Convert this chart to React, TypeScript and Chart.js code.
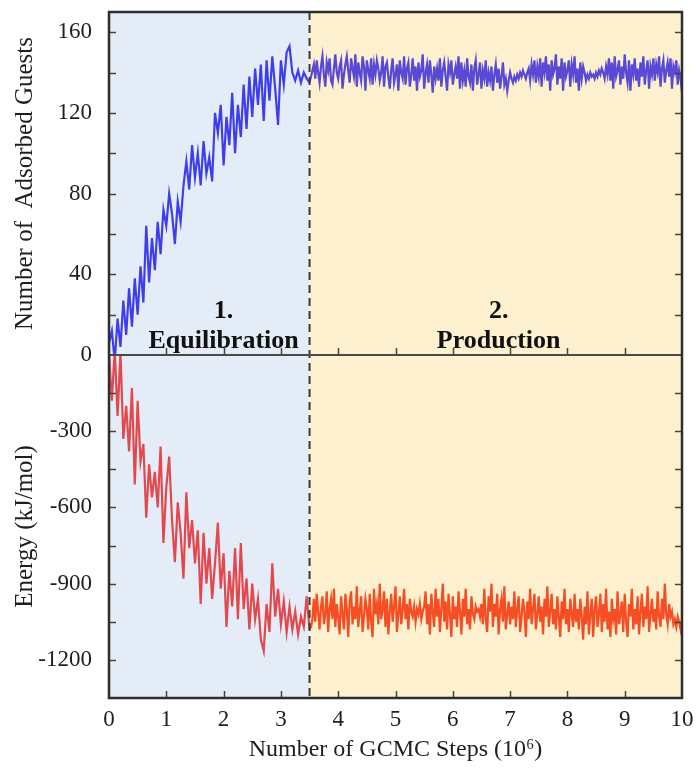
import React, { useEffect, useRef } from 'react';
import { Chart, registerables } from 'chart.js';

Chart.register(...registerables);

// sampling intervals along the x axis (10^6 GCMC steps)
const STEP_EQ = 0.05;
const STEP_PROD = 0.025;
const PHASE_SPLIT = 3.5;
const X_MIN = 0;
const X_MAX = 10;

// Number of adsorbed guests, equilibration phase (x = 0 .. 3.5, every 0.05)
const guestsEquil = [
  6, 12, -3, 18, 4, 27, 10, 33, 14, 38,
  20, 44, 26, 64, 36, 58, 42, 66, 50, 72,
  64, 80, 70, 55, 76, 66, 84, 96, 82, 104,
  88, 100, 84, 106, 90, 98, 86, 120, 110, 124,
  94, 118, 104, 130, 100, 124, 108, 134, 112, 138,
  118, 142, 124, 144, 116, 146, 126, 148, 132, 114,
  146, 134, 150, 153, 140, 136, 141, 135, 140, 137,
  135,
];

// Number of adsorbed guests, production phase (x = 3.525 .. 10, every 0.025)
const guestsProd = [
  138, 141, 144, 137, 146, 140, 135, 143, 148, 139,
  133, 145, 141, 147, 136, 134, 142, 149, 140, 137,
  143, 146, 132, 139, 144, 148, 141, 135, 147, 142,
  138, 149, 133, 145, 140, 136, 148, 143, 131, 146,
  141, 137, 147, 134, 144, 139, 146, 142, 136, 140,
  148, 133, 143, 145, 138, 132, 141, 147, 135, 139,
  144, 131, 146, 140, 137, 148, 134, 142, 145, 133,
  139, 147, 136, 143, 131, 145, 138, 141, 149, 132,
  140, 144, 135, 146, 139, 130, 143, 137, 142, 136,
  147, 133, 141, 145, 138, 131, 144, 140, 146, 134,
  139, 143, 137, 148, 132, 145, 136, 141, 133, 147,
  138, 135, 144, 131, 142, 146, 134, 139, 145, 132,
  141, 137, 146, 133, 140, 136, 143, 131, 139, 144,
  135, 142, 132, 138, 145, 134, 137, 131, 136, 140,
  137, 135, 138, 136, 139, 137, 140, 138, 141, 139,
  137, 140, 142, 136, 144, 139, 146, 135, 143, 138,
  147, 133, 145, 140, 148, 136, 144, 131, 146, 139,
  142, 149, 134, 143, 137, 147, 131, 145, 138, 141,
  146, 133, 144, 139, 148, 135, 142, 131, 145, 137,
  143, 140, 136, 139, 137, 140, 138, 139, 137, 140,
  138, 141, 139, 142, 140, 137, 143, 139, 147, 136,
  145, 132, 148, 138, 141, 146, 134, 143, 137, 149,
  140, 135, 146, 131, 144, 139, 147, 136, 142, 133,
  145, 138, 148, 134, 141, 146, 132, 143, 139, 147,
  136, 144, 140, 148, 133, 142, 146, 135, 141, 145,
  138, 147, 132, 143, 140, 146, 134, 141, 137, 130,
];

// Energy (kJ/mol), equilibration phase (x = 0 .. 3.5, every 0.05)
const energyEquil = [
  10, -180, 20, -240, 10, -330, -200, -380, -130, -510,
  -180, -420, -350, -640, -430, -560, -460, -600, -360, -740,
  -520, -400, -650, -815, -580, -700, -880, -540, -760, -650,
  -820, -690, -980, -700, -900, -760, -960, -820, -660, -920,
  -780, -1070, -850, -990, -760, -1040, -740, -1000, -880, -1080,
  -900, -1040, -960, -1120, -1165, -980, -1090, -820, -1030, -920,
  -1060, -970, -1090, -990, -1080, -1010, -1100, -1030, -1070, -950,
  -1080,
];

// Energy (kJ/mol), production phase (x = 3.525 .. 10, every 0.025)
const energyProd = [
  -1070, -1040, -960, -1050, -940, -1010, -1080, -990, -950, -1060,
  -1020, -930, -1090, -1000, -960, -1040, -920, -1070, -980, -1030,
  -1100, -950, -1020, -1080, -940, -1000, -1110, -970, -930, -1060,
  -990, -1040, -910, -1070, -1010, -950, -1090, -1030, -960, -1000,
  -1080, -940, -1050, -1110, -920, -1020, -980, -1060, -900, -1040,
  -1000, -930, -1070, -960, -1100, -1010, -940, -1050, -990, -910,
  -1090, -1020, -950, -1060, -1000, -920, -1040, -980, -1080, -960,
  -1010, -1030, -990, -1050, -1000, -1020, -980, -1040, -1010, -990,
  -930, -1060, -980, -1100, -940, -1010, -1070, -920, -1030, -960,
  -1090, -1000, -900, -1050, -970, -1080, -940, -1020, -1110, -950,
  -1040, -990, -1070, -930, -1010, -1100, -960, -1030, -920, -1060,
  -1000, -1080, -950, -1020, -1040, -990, -1010, -1000, -1030, -980,
  -1060, -920, -1040, -1090, -950, -1010, -900, -1070, -980, -1030,
  -940, -1100, -1000, -960, -1050, -910, -1080, -1020, -970, -1060,
  -990, -1040, -930, -1070, -1000, -950, -1090, -1030, -960, -1010,
  -1110, -970, -1040, -920, -1060, -1000, -940, -1080, -1020, -950,
  -1050, -990, -1100, -960, -1030, -910, -1070, -1010, -940, -1060,
  -1000, -1080, -950, -1030, -1110, -970, -1040, -920, -1060, -1000,
  -1090, -960, -1020, -1070, -940, -1050, -1000, -1080, -960, -1030,
  -1120, -990, -1060, -930, -1100, -1020, -960, -1110, -1000, -950,
  -1070, -1020, -940, -1090, -980, -1050, -920, -1080, -1010, -1110,
  -960, -1040, -1000, -1100, -930, -1060, -1020, -970, -1090, -940,
  -1050, -1110, -980, -1030, -920, -1080, -1000, -1060, -950, -1100,
  -1010, -940, -1070, -990, -1040, -910, -1090, -1020, -960, -1050,
  -1000, -1080, -930, -1030, -1070, -960, -1040, -900, -1020, -1060,
  -980, -1030, -1010, -1060, -1040, -1070, -1030, -1050, -1080, -1040,
];

const GUESTS_TICK_LABELS = [0, 40, 80, 120, 160];
const ENERGY_TICK_LABELS = [-300, -600, -900, -1200];

const PHASE_LABELS = [
  { num: '1.', name: 'Equilibration', x: 2.0 },
  { num: '2.', name: 'Production', x: 6.8 },
];

const FONT = "'Liberation Serif', 'Times New Roman', serif";
const TEXT = '#1e1e1e';
const BLUE_EQ = 'rgb(62, 62, 236)';
const BLUE_PROD = 'rgb(88, 74, 212)';
const RED_EQ = 'rgb(226, 72, 78)';
const RED_PROD = 'rgb(246, 78, 36)';
const BG_EQ = 'rgb(228, 237, 247)';
const BG_PROD = 'rgb(253, 240, 206)';

const toPoints = (eq: number[], prod: number[]) => [
  ...eq.map((v, i) => ({ x: Math.round(i * STEP_EQ * 1000) / 1000, y: v })),
  ...prod.map((v, i) => ({ x: Math.round((PHASE_SPLIT + (i + 1) * STEP_PROD) * 1000) / 1000, y: v })),
];

const guests = toPoints(guestsEquil, guestsProd);
const energy = toPoints(energyEquil, energyProd);

const backdropPlugin = {
  id: 'backdrop',
  beforeDatasetsDraw(chart: any) {
    const { ctx, chartArea } = chart;
    const xs = chart.scales.x;
    const xSplit = xs.getPixelForValue(PHASE_SPLIT);
    ctx.save();
    ctx.fillStyle = BG_EQ;
    ctx.fillRect(chartArea.left, chartArea.top, xSplit - chartArea.left, chartArea.bottom - chartArea.top);
    ctx.fillStyle = BG_PROD;
    ctx.fillRect(xSplit, chartArea.top, chartArea.right - xSplit, chartArea.bottom - chartArea.top);
    ctx.restore();
  },
};

const overlayPlugin = {
  id: 'overlay',
  afterDatasetsDraw(chart: any) {
    const { ctx, chartArea } = chart;
    const xs = chart.scales.x;
    const yG = chart.scales.yG;
    const yE = chart.scales.yE;
    const L = chartArea.left;
    const R = chartArea.right;
    const T = chartArea.top;
    const B = chartArea.bottom;
    const mid = yG.getPixelForValue(0);
    const TL = 7;
    ctx.save();

    // dashed phase divider
    const xSplit = xs.getPixelForValue(PHASE_SPLIT);
    ctx.strokeStyle = '#3a3a3a';
    ctx.lineWidth = 2;
    ctx.setLineDash([8, 5]);
    ctx.beginPath();
    ctx.moveTo(xSplit, T);
    ctx.lineTo(xSplit, B);
    ctx.stroke();
    ctx.setLineDash([]);

    // inward tick marks
    ctx.strokeStyle = '#444';
    ctx.lineWidth = 1.5;
    ctx.beginPath();
    for (const s of [yG, yE]) {
      for (const t of s.ticks) {
        const p = Math.round(s.getPixelForValue(t.value)) + 0.5;
        if (p <= T + 1 || p >= B - 1 || Math.abs(p - mid) < 1) continue;
        ctx.moveTo(L, p);
        ctx.lineTo(L + TL, p);
        ctx.moveTo(R, p);
        ctx.lineTo(R - TL, p);
      }
    }
    for (const t of xs.ticks) {
      const p = Math.round(xs.getPixelForValue(t.value)) + 0.5;
      if (p <= L + 1 || p >= R - 1) continue;
      ctx.moveTo(p, B);
      ctx.lineTo(p, B - TL);
      ctx.moveTo(p, mid);
      ctx.lineTo(p, mid - TL);
    }
    ctx.stroke();

    // middle separator line
    ctx.strokeStyle = '#4a4a4a';
    ctx.lineWidth = 2;
    ctx.beginPath();
    ctx.moveTo(L, mid);
    ctx.lineTo(R, mid);
    ctx.stroke();

    // frame
    ctx.strokeStyle = '#2e2e2e';
    ctx.lineWidth = 2.5;
    ctx.strokeRect(L, T, R - L, B - T);

    // phase labels
    ctx.fillStyle = '#111';
    ctx.font = `bold 26px ${FONT}`;
    ctx.textAlign = 'center';
    ctx.textBaseline = 'alphabetic';
    for (const lab of PHASE_LABELS) {
      const px = xs.getPixelForValue(lab.x);
      ctx.fillText(lab.num, px, mid - 37);
      ctx.fillText(lab.name, px, mid - 7);
    }
    ctx.restore();
  },
};

export default function App() {
  const ref = useRef<HTMLCanvasElement>(null);

  useEffect(() => {
    if (!ref.current) return;
    const chart = new Chart(ref.current, {
      type: 'line',
      data: {
        datasets: [
          {
            label: 'Adsorbed guests',
            data: guests,
            yAxisID: 'yG',
            borderColor: BLUE_EQ,
            borderWidth: 2.2,
            pointRadius: 0,
            tension: 0,
            segment: {
              borderColor: (c: any) => (c.p0.parsed.x >= PHASE_SPLIT ? BLUE_PROD : BLUE_EQ),
            },
          },
          {
            label: 'Energy',
            data: energy,
            yAxisID: 'yE',
            borderColor: RED_EQ,
            borderWidth: 2.2,
            pointRadius: 0,
            tension: 0,
            segment: {
              borderColor: (c: any) => (c.p0.parsed.x >= PHASE_SPLIT ? RED_PROD : RED_EQ),
            },
          },
        ],
      },
      options: {
        animation: false,
        responsive: false,
        layout: { padding: { left: 0, right: 14, top: 12, bottom: 0 } },
        plugins: {
          legend: { display: false },
          tooltip: { enabled: false },
        },
        scales: {
          x: {
            type: 'linear',
            position: 'bottom',
            min: X_MIN,
            max: X_MAX,
            grid: { display: false },
            border: { display: false },
            ticks: {
              stepSize: 1,
              padding: 0,
              color: TEXT,
              font: { family: FONT, size: 23 },
            },
            title: {
              display: true,
              text: 'Number of GCMC Steps (10⁶)',
              color: TEXT,
              font: { family: FONT, size: 24 },
              padding: { top: 0, bottom: 8 },
            },
            afterFit: (s: any) => {
              s.height = 74;
            },
          },
          yE: {
            type: 'linear',
            position: 'left',
            stack: 'panels',
            stackWeight: 1,
            min: -1350,
            max: 0,
            grid: { display: false },
            border: { display: false },
            ticks: {
              stepSize: 150,
              includeBounds: false,
              autoSkip: false,
              padding: 9,
              color: TEXT,
              font: { family: FONT, size: 23 },
              callback: (v: any) => (ENERGY_TICK_LABELS.includes(Number(v)) ? String(v) : ''),
            },
            title: {
              display: true,
              text: 'Energy (kJ/mol)',
              color: TEXT,
              font: { family: FONT, size: 25 },
              padding: { top: 10, bottom: 0 },
            },
            afterFit: (s: any) => {
              s.width = 109;
              s.paddingTop = 0;
              s.paddingBottom = 0;
            },
          },
          yG: {
            type: 'linear',
            position: 'left',
            stack: 'panels',
            stackWeight: 1,
            min: 0,
            max: 170,
            grid: { display: false },
            border: { display: false },
            ticks: {
              stepSize: 20,
              includeBounds: false,
              autoSkip: false,
              padding: 9,
              color: TEXT,
              font: { family: FONT, size: 23 },
              callback: (v: any) => (GUESTS_TICK_LABELS.includes(Number(v)) ? String(v) : ''),
            },
            title: {
              display: true,
              text: 'Number of  Adsorbed Guests',
              color: TEXT,
              font: { family: FONT, size: 25 },
              padding: { top: 10, bottom: 0 },
            },
            afterFit: (s: any) => {
              s.width = 109;
              s.paddingTop = 0;
              s.paddingBottom = 0;
            },
          },
        },
      } as any,
      plugins: [backdropPlugin, overlayPlugin],
    });
    return () => chart.destroy();
  }, []);

  return (
    <div style={{ position: 'fixed', left: 0, top: 0, width: 696, height: 772, background: '#fff' }}>
      <canvas ref={ref} width={696} height={772} style={{ display: 'block', width: 696, height: 772 }} />
    </div>
  );
}
